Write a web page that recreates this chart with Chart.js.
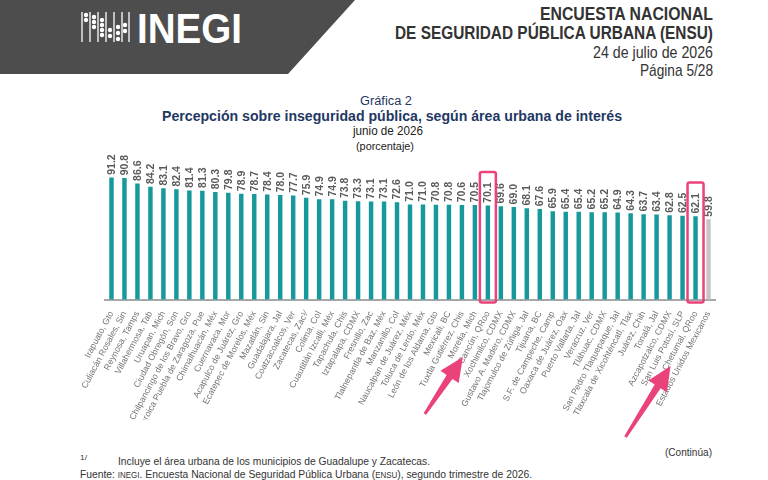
<!DOCTYPE html>
<html><head><meta charset="utf-8">
<script src="https://cdn.jsdelivr.net/npm/chart.js@4/dist/chart.umd.min.js"></script>
<style>
html,body{margin:0;padding:0;background:#fff;}
body{width:768px;height:480px;position:relative;overflow:hidden;font-family:"Liberation Sans Narrow","Liberation Sans",Arial,sans-serif;}
#c{position:absolute;left:0;top:0;}
.t{position:absolute;white-space:nowrap;line-height:1;transform-origin:0 50%;}
#hdr{position:absolute;left:0;top:0;width:768px;height:74px;}
</style></head><body>
<svg id="hdr" width="768" height="74">
  <polygon points="0,0 355,0 288,74 0,74" fill="#4d4d4d"/>
  <g stroke="#fff" stroke-width="1.3">
    <line x1="82" y1="12" x2="82" y2="42"/><line x1="90" y1="12" x2="90" y2="42"/>
    <line x1="98" y1="12" x2="98" y2="42"/><line x1="106" y1="12" x2="106" y2="42"/>
    <line x1="114" y1="12" x2="114" y2="42"/><line x1="122" y1="12" x2="122" y2="42"/>
    <line x1="129" y1="12" x2="129" y2="42"/>
  </g>
  <g fill="#fff">
    <circle cx="86" cy="15" r="2.2"/><circle cx="86" cy="20" r="2.2"/>
    <circle cx="94" cy="17" r="2.2"/><circle cx="94" cy="22" r="2.2"/><circle cx="94" cy="27" r="2.2"/>
    <circle cx="102" cy="20" r="2.2"/><circle cx="102" cy="25" r="2.2"/><circle cx="102" cy="30" r="2.2"/><circle cx="102" cy="35" r="2.2"/>
    <circle cx="110" cy="30" r="2.2"/><circle cx="110" cy="36" r="2.2"/>
    <circle cx="118" cy="27" r="2.2"/><circle cx="118" cy="33" r="2.2"/><circle cx="118" cy="39" r="2.2"/>
    <circle cx="125" cy="25" r="2.2"/><circle cx="125" cy="31" r="2.2"/>
  </g>
</svg>
<div class="t" data-x="137" data-y="29" data-w="105" style="font-family:'Liberation Sans',Arial,sans-serif;font-weight:900;font-size:42px;color:#fff;">INEGI</div>

<div class="t" data-x="540" data-y="14" data-w="173" style="font-weight:bold;font-size:18px;color:#333;">ENCUESTA NACIONAL</div>
<div class="t" data-x="395" data-y="33" data-w="318" style="font-weight:bold;font-size:18px;color:#333;">DE SEGURIDAD PÚBLICA URBANA (ENSU)</div>
<div class="t" data-x="593" data-y="52" data-w="120" style="font-size:17px;color:#333;">24 de julio de 2026</div>
<div class="t" data-x="640" data-y="70" data-w="73" style="font-size:17px;color:#333;">Página 5/28</div>

<div class="t" data-x="360" data-y="101" data-w="52" style="font-size:12px;color:#1f3864;">Gráfica 2</div>
<div class="t" data-x="162" data-y="116" data-w="460" style="font-weight:bold;font-size:14px;color:#1f3864;">Percepción sobre inseguridad pública, según área urbana de interés</div>
<div class="t" data-x="353" data-y="131" data-w="70" style="font-size:12px;color:#222;">junio de 2026</div>
<div class="t" data-x="356" data-y="146" data-w="58" style="font-size:11px;color:#222;">(porcentaje)</div>

<div class="t" data-x="665" data-y="452" data-w="47" style="font-size:11px;color:#333;">(Continúa)</div>
<div class="t" data-x="80" data-y="457" data-w="7" style="font-size:7px;color:#333;">1/</div>
<div class="t" data-x="118" data-y="461" data-w="312" style="font-size:11px;color:#333;">Incluye el área urbana de los municipios de Guadalupe y Zacatecas.</div>
<div class="t" data-x="80" data-y="474" data-w="452" style="font-size:11px;color:#333;">Fuente: <span style="font-size:8.5px">INEGI</span>. Encuesta Nacional de Seguridad Pública Urbana (<span style="font-size:8.5px">ENSU</span>), segundo trimestre de 2026.</div>

<canvas id="c" width="768" height="480"></canvas>
<script>
// ---- data ----
const categories = [
  "Irapuato, Gto","Culiacán Rosales, Sin","Reynosa, Tamps","Villahermosa, Tab","Uruapan, Mich",
  "Ciudad Obregón, Son","Chilpancingo de los Bravo, Gro","Heroica Puebla de Zaragoza, Pue","Chimalhuacán, Méx","Cuernavaca, Mor",
  "Acapulco de Juárez, Gro","Ecatepec de Morelos, Méx","Mazatlán, Sin","Guadalajara, Jal","Coatzacoalcos, Ver",
  "Zacatecas, Zac¹⁄","Colima, Col","Cuautitlán Izcalli, Méx","Tapachula, Chis","Iztapalapa, CDMX",
  "Fresnillo, Zac","Tlalnepantla de Baz, Méx","Manzanillo, Col","Naucalpan de Juárez, Méx","Toluca de Lerdo, Méx",
  "León de los Aldama, Gto","Mexicali, BC","Tuxtla Gutiérrez, Chis","Morelia, Mich","Cancún, QRoo",
  "Xochimilco, CDMX","Gustavo A. Madero, CDMX","Tlajomulco de Zúñiga, Jal","Tijuana, BC","S.F. de Campeche, Camp",
  "Oaxaca de Juárez, Oax","Puerto Vallarta, Jal","Veracruz, Ver","Tláhuac, CDMX","San Pedro Tlaquepaque, Jal",
  "Tlaxcala de Xicohténcatl, Tlax","Juárez, Chih","Tonalá, Jal","Azcapotzalco, CDMX","San Luis Potosí, SLP",
  "Chetumal, QRoo","Estados Unidos Mexicanos"
];
const values = [
  91.2,90.8,86.6,84.2,83.1,82.4,81.4,81.3,80.3,79.8,
  78.9,78.7,78.4,78.0,77.7,75.9,74.9,74.9,73.8,73.3,
  73.1,73.1,72.6,71.0,71.0,70.8,70.8,70.6,70.5,70.1,
  69.6,69.0,68.1,67.6,65.9,65.4,65.4,65.2,65.2,64.9,
  64.3,63.7,63.4,62.8,62.5,62.1,59.8
];
const nationalCategory = "Estados Unidos Mexicanos";
const highlightedCategories = ["Cancún, QRoo","Chetumal, QRoo"];

// ---- text fitting ----
document.querySelectorAll('.t').forEach(el=>{
  const w = el.getBoundingClientRect().width;
  const fs = parseFloat(el.style.fontSize);
  el.style.left = el.dataset.x + 'px';
  el.style.top = (parseFloat(el.dataset.y) - fs*0.5) + 'px';
  el.style.transform = 'scaleX(' + (parseFloat(el.dataset.w)/w) + ')';
});

const TEAL = '#17999b', GREY = '#c6c6c6', PINK = '#ea4379';
const barColors = categories.map(c => c === nationalCategory ? GREY : TEAL);

const valueLabels = {
  id:'valueLabels',
  afterDatasetsDraw(chart){
    const ctx = chart.ctx, meta = chart.getDatasetMeta(0);
    ctx.save();
    ctx.font = 'bold 10.5px "Liberation Sans", Arial, sans-serif';
    ctx.fillStyle = '#5a5a5a';
    ctx.textAlign = 'left'; ctx.textBaseline = 'middle';
    meta.data.forEach((bar,i)=>{
      ctx.save();
      ctx.translate(bar.x + 0.5, bar.y - 3);
      ctx.rotate(-Math.PI/2);
      ctx.fillText(values[i].toFixed(1), 0, 0);
      ctx.restore();
    });
    ctx.restore();
  }
};

function drawArrow(ctx, x0, y0, x1, y1){
  const ang = Math.atan2(y1-y0, x1-x0), L = Math.hypot(x1-x0, y1-y0);
  ctx.save();
  ctx.translate(x0,y0); ctx.rotate(ang);
  const hl = 24, hw = 11;
  ctx.beginPath();
  ctx.moveTo(0,-1.5);
  ctx.lineTo(L-hl,-3.5);
  ctx.lineTo(L-hl,-hw);
  ctx.lineTo(L,0);
  ctx.lineTo(L-hl,hw);
  ctx.lineTo(L-hl,3.5);
  ctx.lineTo(0,1.5);
  ctx.closePath();
  ctx.fillStyle = PINK; ctx.fill();
  ctx.restore();
}

const highlights = {
  id:'highlights',
  afterDraw(chart){
    const ctx = chart.ctx, meta = chart.getDatasetMeta(0);
    const arrows = {"Cancún, QRoo":[-63,414,-25,357],"Chetumal, QRoo":[-70,437,-25,366]};
    highlightedCategories.forEach(cat=>{
      const i = categories.indexOf(cat);
      const bar = meta.data[i];
      const x = bar.x, top = bar.y - 34, bottom = chart.chartArea.bottom + 3;
      ctx.save();
      ctx.strokeStyle = PINK; ctx.lineWidth = 2.5; ctx.lineJoin = 'round';
      ctx.beginPath();
      if (ctx.roundRect) ctx.roundRect(x-8, top, 16, bottom-top, 2); else ctx.rect(x-8, top, 16, bottom-top);
      ctx.stroke();
      ctx.restore();
      const a = arrows[cat];
      drawArrow(ctx, x + a[0], a[1], x + a[2], a[3]);
    });
  }
};

new Chart(document.getElementById('c'), {
  type:'bar',
  data:{ labels: categories, datasets:[{ data: values, backgroundColor: barColors, barThickness:3.8 }]},
  options:{
    responsive:false, animation:false,
    layout:{ padding:{ left:105, right:53, top:166, bottom:60.5 } },
    plugins:{ legend:{display:false}, tooltip:{enabled:false} },
    scales:{
      y:{ display:false, min:0, max:100 },
      x:{
        grid:{ display:false },
        border:{ display:true, color:'#a8a8a8', width:2 },
        ticks:{ autoSkip:false, minRotation:62, maxRotation:62, padding:2, color:'#737373',
                font:{ size:8.8, family:'"Liberation Sans", Arial, sans-serif' } },
        afterFit(s){ s.height = 120; }
      }
    }
  },
  plugins:[valueLabels, highlights]
});
</script>
</body></html>
